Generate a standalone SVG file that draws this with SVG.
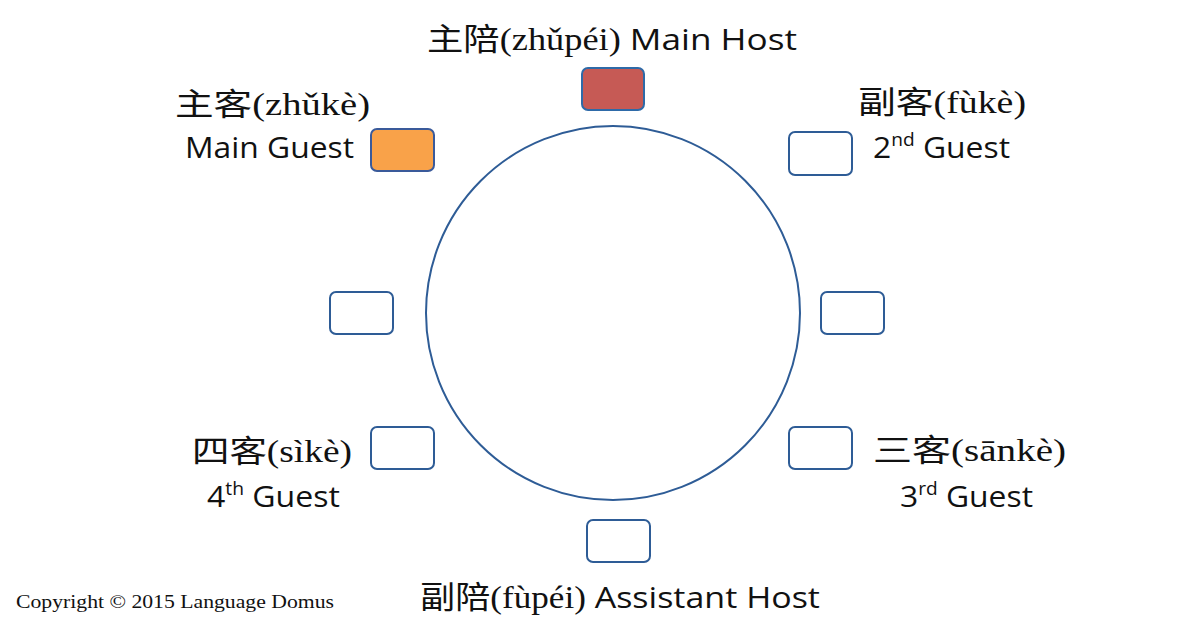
<svg xmlns="http://www.w3.org/2000/svg" width="1200" height="626" viewBox="0 0 1200 626">
<style>
.seat{fill:#ffffff;stroke:#2e5c96;stroke-width:2}
.zh{font-family:"Liberation Serif","Noto Sans CJK SC",serif;font-size:31px;fill:#111}
.en{font-family:"Open Sans","Liberation Sans",sans-serif;font-size:30px;fill:#111}
.sup{font-size:18px}
.copy{font-family:"Liberation Serif",serif;font-size:19px;fill:#111}
</style>
<rect width="1200" height="626" fill="#ffffff"/>
<g id="table">
<circle cx="613" cy="313" r="187" fill="none" stroke="#2e5c96" stroke-width="2"/>
</g>
<g id="main-host">
<rect x="582" y="68" width="62" height="42" rx="6" fill="#c65a55" stroke="#2e6aa8" stroke-width="2"/>
<text y="50" textLength="370" lengthAdjust="spacingAndGlyphs" x="427"><tspan class="zh">主陪(zhǔpéi)</tspan><tspan class="en"> Main Host</tspan></text>
</g>
<g id="main-guest">
<rect x="371" y="129" width="63" height="42" rx="6" fill="#f9a249" stroke="#3a5a9a" stroke-width="2"/>
<text class="zh" x="175" y="115" textLength="195" lengthAdjust="spacingAndGlyphs">主客(zhǔkè)</text>
<text class="en" x="185" y="158" textLength="169" lengthAdjust="spacingAndGlyphs">Main Guest</text>
</g>
<g id="second-guest">
<rect class="seat" x="789" y="132" width="63" height="43" rx="6"/>
<text class="zh" x="858" y="113" textLength="168" lengthAdjust="spacingAndGlyphs">副客(fùkè)</text>
<text class="en" x="873" y="158" textLength="137" lengthAdjust="spacingAndGlyphs">2<tspan class="sup" dy="-12">nd</tspan><tspan dy="12"> Guest</tspan></text>
</g>
<g id="left-seat">
<rect class="seat" x="330" y="292" width="63" height="42" rx="6"/>
</g>
<g id="right-seat">
<rect class="seat" x="821" y="292" width="63" height="42" rx="6"/>
</g>
<g id="fourth-guest">
<rect class="seat" x="371" y="427" width="63" height="42" rx="6"/>
<text class="zh" x="192" y="462" textLength="160" lengthAdjust="spacingAndGlyphs">四客(sìkè)</text>
<text class="en" x="207" y="507" textLength="133" lengthAdjust="spacingAndGlyphs">4<tspan class="sup" dy="-12">th</tspan><tspan dy="12"> Guest</tspan></text>
</g>
<g id="third-guest">
<rect class="seat" x="789" y="427" width="63" height="42" rx="6"/>
<text class="zh" x="873" y="461" textLength="193" lengthAdjust="spacingAndGlyphs">三客(sānkè)</text>
<text class="en" x="900" y="507" textLength="133" lengthAdjust="spacingAndGlyphs">3<tspan class="sup" dy="-12">rd</tspan><tspan dy="12"> Guest</tspan></text>
</g>
<g id="assistant-host">
<rect class="seat" x="587" y="520" width="63" height="42" rx="6"/>
<text y="608" x="420" textLength="400" lengthAdjust="spacingAndGlyphs"><tspan class="zh">副陪(fùpéi)</tspan><tspan class="en"> Assistant Host</tspan></text>
</g>
<g id="connectors"></g>
<text class="copy" x="16" y="608" textLength="318" lengthAdjust="spacingAndGlyphs">Copyright © 2015 Language Domus</text>
</svg>
